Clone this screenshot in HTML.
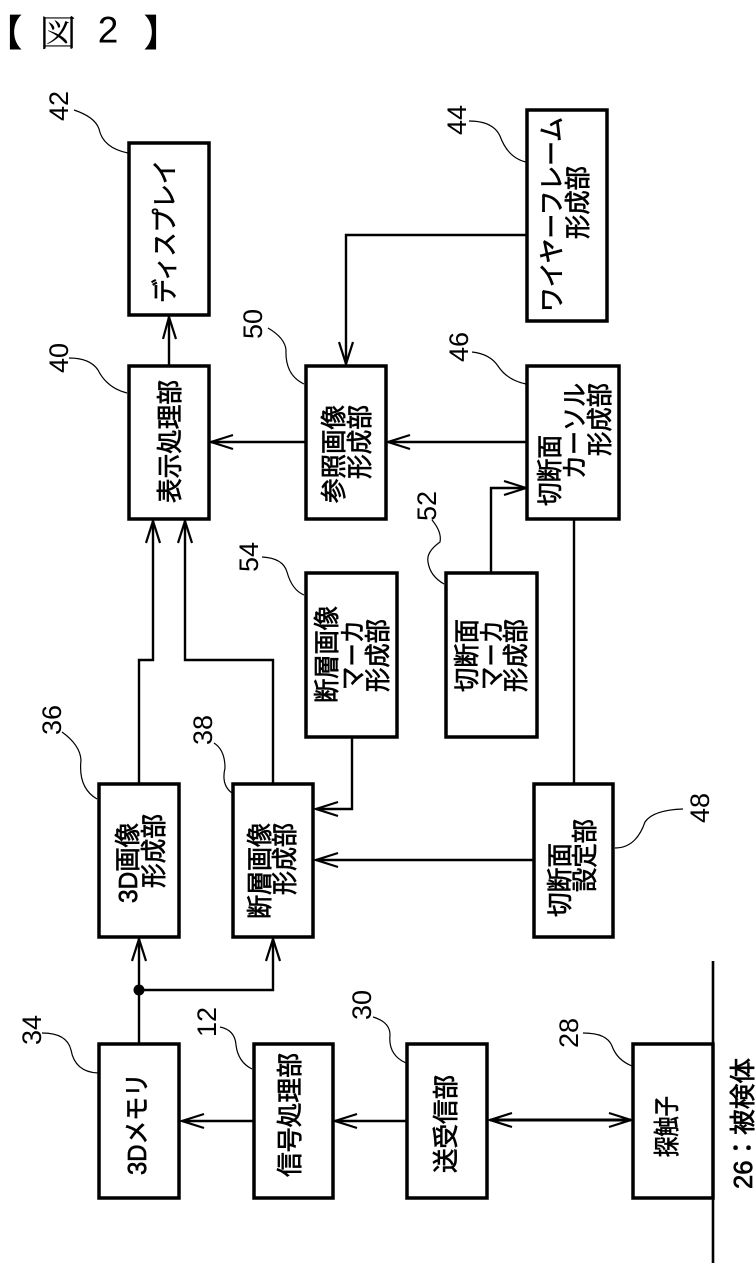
<!DOCTYPE html>
<html lang="ja"><head><meta charset="utf-8"><title>図2</title>
<style>
html,body{margin:0;padding:0;background:#fff}
svg{display:block}
.b{fill:#fff;stroke:#000;stroke-width:3.5}
.c{fill:none;stroke:#000;stroke-width:2.4}
.a{fill:none;stroke:#000;stroke-width:2.2}
.l{fill:none;stroke:#000;stroke-width:1.2}
.t{font-family:"Liberation Sans","Noto Sans CJK JP",sans-serif;font-size:26px;fill:#000;stroke:#000;stroke-width:.7;dominant-baseline:central}
.n{font-family:"Liberation Sans",sans-serif;font-size:27px;fill:#000;dominant-baseline:central;text-anchor:middle}
.h{font-family:"Noto Serif CJK SC","Liberation Serif",serif;font-size:37px;fill:#000;text-anchor:middle;dominant-baseline:central}
.k{font-family:"Noto Sans CJK JP",sans-serif;font-weight:700}
</style></head><body>
<svg width="756" height="1274" viewBox="0 0 756 1274" xmlns="http://www.w3.org/2000/svg">
<rect width="756" height="1274" fill="#fff"/>
<text class="h k" x="4" y="30">【</text>
<text class="h" x="58" y="30">図</text>
<text class="h" x="108" y="30" style="font-family:'Liberation Sans',sans-serif">2</text>
<text class="h k" x="162" y="30">】</text>

<!-- connectors -->
<path class="c" d="M169 366V317"/>
<path class="a" d="M163 339L169 317L176 339"/>
<path class="c" d="M306 442H211"/>
<path class="a" d="M233 435L211 442L233 449"/>
<path class="c" d="M527 442H388"/>
<path class="a" d="M410 435L388 442L410 449"/>
<path class="c" d="M527 235H346V364"/>
<path class="a" d="M339 342L346 364L353 342"/>
<path class="c" d="M491 572V488H526"/>
<path class="a" d="M504 481L526 488L504 495"/>
<path class="c" d="M574 783V520"/>
<path class="c" d="M533 860H316"/>
<path class="a" d="M338 853L316 860L338 867"/>
<path class="c" d="M352 737V809H316"/>
<path class="a" d="M338 802L316 809L338 816"/>
<path class="c" d="M139 783V660H153V521"/>
<path class="a" d="M146 543L153 521L160 543"/>
<path class="c" d="M273 783V660H185V521"/>
<path class="a" d="M178 543L185 521L192 543"/>
<path class="c" d="M139 1043V939"/>
<path class="a" d="M132 961L139 939L146 961"/>
<path class="c" d="M139 990H273V939"/>
<path class="a" d="M266 961L273 939L280 961"/>
<circle cx="139" cy="990" r="5.5" fill="#000"/>
<path class="c" d="M254 1121H182"/>
<path class="a" d="M204 1114L182 1121L204 1128"/>
<path class="c" d="M407 1121H335"/>
<path class="a" d="M357 1114L335 1121L357 1128"/>
<path class="c" d="M490 1120H631" style="stroke-width:3"/>
<path class="a" d="M512 1113L490 1120L512 1127"/>
<path class="a" d="M609 1113L631 1120L609 1127"/>
<path d="M713 961V1263" fill="none" stroke="#000" stroke-width="2.6"/>

<!-- boxes -->
<rect class="b" x="129" y="143" width="80" height="172"/>
<rect class="b" x="129" y="366" width="80" height="153"/>
<rect class="b" x="306" y="366" width="80" height="153"/>
<rect class="b" x="527" y="110" width="80" height="211"/>
<rect class="b" x="527" y="366" width="92" height="153"/>
<rect class="b" x="446" y="573" width="91" height="164"/>
<rect class="b" x="306" y="573" width="91" height="164"/>
<rect class="b" x="534" y="784" width="79" height="153"/>
<rect class="b" x="99" y="784" width="80" height="153"/>
<rect class="b" x="233" y="784" width="80" height="153"/>
<rect class="b" x="99" y="1044" width="80" height="154"/>
<rect class="b" x="254" y="1044" width="79" height="154"/>
<rect class="b" x="407" y="1044" width="80" height="154"/>
<rect class="b" x="633" y="1044" width="80" height="154"/>

<!-- box text -->
<text class="t" transform="translate(165,303) rotate(-90)" textLength="143" lengthAdjust="spacingAndGlyphs">ディスプレイ</text>
<text class="t" transform="translate(170,503) rotate(-90)" textLength="123" lengthAdjust="spacingAndGlyphs">表示処理部</text>
<text class="t" transform="translate(334,503) rotate(-90)" textLength="98" lengthAdjust="spacingAndGlyphs">参照画像</text>
<text class="t" transform="translate(360,479) rotate(-90)" textLength="74" lengthAdjust="spacingAndGlyphs">形成部</text>
<text class="t" transform="translate(552,312) rotate(-90)" textLength="195" lengthAdjust="spacingAndGlyphs">ワイヤーフレーム</text>
<text class="t" transform="translate(578,239) rotate(-90)" textLength="73" lengthAdjust="spacingAndGlyphs">形成部</text>
<text class="t" transform="translate(550,506) rotate(-90)" textLength="71" lengthAdjust="spacingAndGlyphs">切断面</text>
<text class="t" transform="translate(575,479) rotate(-90)" textLength="96" lengthAdjust="spacingAndGlyphs">カーソル</text>
<text class="t" transform="translate(600,456) rotate(-90)" textLength="73" lengthAdjust="spacingAndGlyphs">形成部</text>
<text class="t" transform="translate(467,692) rotate(-90)" textLength="73" lengthAdjust="spacingAndGlyphs">切断面</text>
<text class="t" transform="translate(492,690) rotate(-90)" textLength="70" lengthAdjust="spacingAndGlyphs">マーカ</text>
<text class="t" transform="translate(516,692) rotate(-90)" textLength="73" lengthAdjust="spacingAndGlyphs">形成部</text>
<text class="t" transform="translate(327,703) rotate(-90)" textLength="97" lengthAdjust="spacingAndGlyphs">断層画像</text>
<text class="t" transform="translate(353,690) rotate(-90)" textLength="70" lengthAdjust="spacingAndGlyphs">マーカ</text>
<text class="t" transform="translate(378,692) rotate(-90)" textLength="73" lengthAdjust="spacingAndGlyphs">形成部</text>
<text class="t" transform="translate(128,903) rotate(-90)" textLength="80" lengthAdjust="spacingAndGlyphs">3D画像</text>
<text class="t" transform="translate(154,888) rotate(-90)" textLength="74" lengthAdjust="spacingAndGlyphs">形成部</text>
<text class="t" transform="translate(260,919) rotate(-90)" textLength="96" lengthAdjust="spacingAndGlyphs">断層画像</text>
<text class="t" transform="translate(285,895) rotate(-90)" textLength="72" lengthAdjust="spacingAndGlyphs">形成部</text>
<text class="t" transform="translate(560,917) rotate(-90)" textLength="74" lengthAdjust="spacingAndGlyphs">切断面</text>
<text class="t" transform="translate(585,892) rotate(-90)" textLength="73" lengthAdjust="spacingAndGlyphs">設定部</text>
<text class="t" transform="translate(137,1175) rotate(-90)" textLength="102" lengthAdjust="spacingAndGlyphs">3Dメモリ</text>
<text class="t" transform="translate(290,1177) rotate(-90)" textLength="124" lengthAdjust="spacingAndGlyphs">信号処理部</text>
<text class="t" transform="translate(446,1173) rotate(-90)" textLength="98" lengthAdjust="spacingAndGlyphs">送受信部</text>
<text class="t" transform="translate(667,1157) rotate(-90)" textLength="61" lengthAdjust="spacingAndGlyphs">探触子</text>
<text class="t" transform="translate(743,1189) rotate(-90)" textLength="131" lengthAdjust="spacingAndGlyphs">26：被検体</text>

<!-- leaders -->
<path class="l" d="M74 110Q95 117 99 129Q103 148 128 153"/>
<path class="l" d="M69 358Q90 358 98 370Q107 388 127 393"/>
<path class="l" d="M268 328Q285 338 286 350Q285 375 304 384"/>
<path class="l" d="M469 121Q493 121 500 136Q508 158 526 162"/>
<path class="l" d="M472 352Q490 354 498 366Q507 380 526 384"/>
<path class="l" d="M432 520Q442 532 440 542Q426 552 428 562Q430 576 444 584"/>
<path class="l" d="M262 557Q283 558 287 572Q292 590 304 595"/>
<path class="l" d="M62 732Q80 745 81 760Q78 788 97 799"/>
<path class="l" d="M214 743Q225 750 225 768Q221 785 232 793"/>
<path class="l" d="M683 809Q653 810 645 822Q636 848 615 848"/>
<path class="l" d="M42 1033Q67 1033 71 1050Q75 1072 98 1073"/>
<path class="l" d="M220 1027Q235 1030 236 1045Q238 1062 252 1069"/>
<path class="l" d="M373 1017Q390 1022 390 1035Q388 1055 406 1063"/>
<path class="l" d="M583 1033Q607 1033 612 1046Q617 1060 632 1066"/>

<!-- numbers -->
<text class="n" transform="translate(59,106) rotate(-90)">42</text>
<text class="n" transform="translate(59,358) rotate(-90)">40</text>
<text class="n" transform="translate(253,324) rotate(-90)">50</text>
<text class="n" transform="translate(457,120) rotate(-90)">44</text>
<text class="n" transform="translate(459,347) rotate(-90)">46</text>
<text class="n" transform="translate(427,506) rotate(-90)">52</text>
<text class="n" transform="translate(249,557) rotate(-90)">54</text>
<text class="n" transform="translate(52,720) rotate(-90)">36</text>
<text class="n" transform="translate(203,730) rotate(-90)">38</text>
<text class="n" transform="translate(700,808) rotate(-90)">48</text>
<text class="n" transform="translate(32,1030) rotate(-90)">34</text>
<text class="n" transform="translate(207,1022) rotate(-90)">12</text>
<text class="n" transform="translate(362,1005) rotate(-90)">30</text>
<text class="n" transform="translate(569,1033) rotate(-90)">28</text>
</svg>
</body></html>
